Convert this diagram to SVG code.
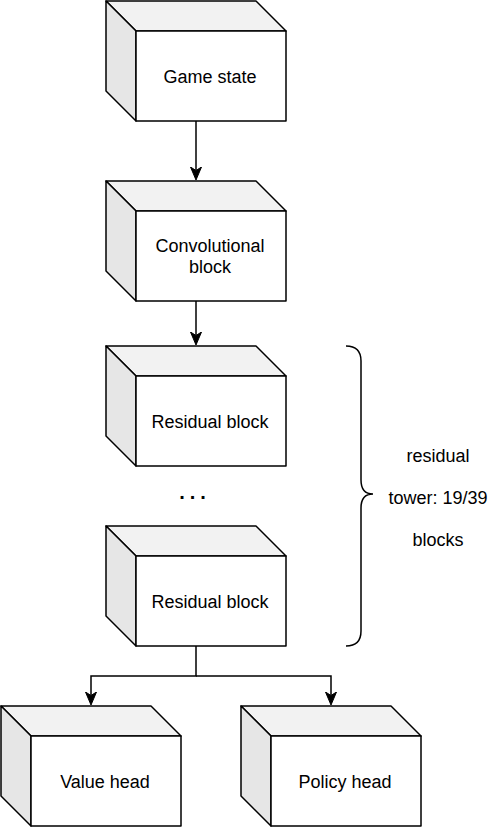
<svg xmlns="http://www.w3.org/2000/svg" width="491" height="827" viewBox="0 0 491 827">
<style>
.front{fill:#ffffff;stroke:#000;stroke-width:1.5;stroke-linejoin:round}
.top{fill:#f2f2f2;stroke:#000;stroke-width:1.5;stroke-linejoin:round}
.side{fill:#e6e6e6;stroke:#000;stroke-width:1.5;stroke-linejoin:round}
.lbl{font-family:"Liberation Sans",Arial,sans-serif;font-size:18px;fill:#000;text-anchor:middle}
.edge{fill:none;stroke:#000;stroke-width:1.5}
</style>
<defs>
<marker id="arr" viewBox="0 0 14 12" refX="3.5" refY="6" markerWidth="14" markerHeight="12" markerUnits="userSpaceOnUse" orient="auto">
<path d="M0,0.5 L13,6 L0,11.5 L3.5,6 Z" fill="#000" stroke="#000" stroke-width="1"/>
</marker>
<g id="cube">
<polygon class="top" points="0,0 150,0 180,30 30,30"/>
<polygon class="side" points="0,0 30,30 30,120 0,90"/>
<rect class="front" x="30" y="30" width="150" height="90"/>
</g>
</defs>
<g id="connectors">
<path class="edge" d="M196,121 L196,170.5" marker-end="url(#arr)"/>
<path class="edge" d="M196,301 L196,335.5" marker-end="url(#arr)"/>
<path class="edge" d="M196,646 L196,676 L91,676 L91,695.5" marker-end="url(#arr)"/>
<path class="edge" d="M196,676 L331,676 L331,695.5" marker-end="url(#arr)"/>
</g>
<g id="game-state">
<use href="#cube" x="106" y="1"/>
<text class="lbl" x="210" y="83">Game state</text>
</g>
<g id="conv-block">
<use href="#cube" x="106" y="181"/>
<text class="lbl" x="210" y="252">Convolutional</text>
<text class="lbl" x="210" y="273">block</text>
</g>
<g id="residual-1">
<use href="#cube" x="106" y="346"/>
<text class="lbl" x="210" y="428">Residual block</text>
</g>
<g id="dots">
<text x="195" y="499" style="font-family:'Liberation Sans',Arial,sans-serif;font-size:20px;font-weight:bold;text-anchor:middle;letter-spacing:5px">...</text>
</g>
<g id="residual-2">
<use href="#cube" x="106" y="526"/>
<text class="lbl" x="210" y="608">Residual block</text>
</g>
<g id="value-head">
<use href="#cube" x="1" y="706"/>
<text class="lbl" x="105" y="788">Value head</text>
</g>
<g id="policy-head">
<use href="#cube" x="241" y="706"/>
<text class="lbl" x="345" y="788">Policy head</text>
</g>
<g id="tower-brace">
<path class="edge" d="M346,346 Q361,346 361,361 L361,480 Q361,494 373,494 Q361,494 361,508 L361,631 Q361,646 346,646"/>
<text class="lbl" x="438" y="462">residual</text>
<text class="lbl" x="438" y="504">tower: 19/39</text>
<text class="lbl" x="438" y="546">blocks</text>
</g>
</svg>
